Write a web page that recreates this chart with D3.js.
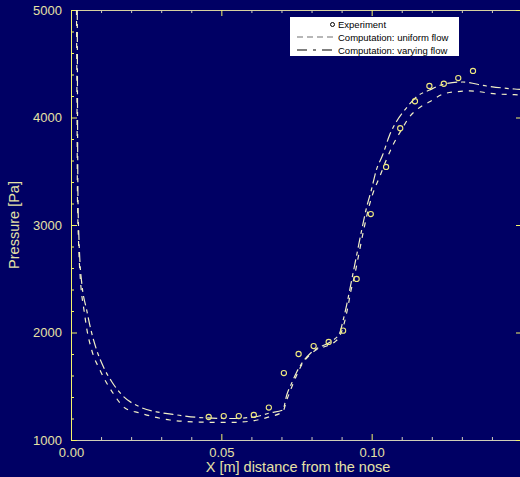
<!DOCTYPE html>
<html><head><meta charset="utf-8">
<script src="https://cdn.jsdelivr.net/npm/d3@7"></script>
<style>html,body{margin:0;padding:0;background:#000064;}svg{display:block;}</style>
</head><body>
<svg id="chart" width="520" height="477"></svg>
<script>
// Experiment data
const expX = [0.0458,0.0508,0.0558,0.0608,0.0658,0.0708,0.0757,0.0807,0.0857,0.0905,0.0950,0.0997,0.1048,0.1095,0.1144,0.1192,0.1240,0.1288,0.1337];
const expP = [1214,1223,1223,1233,1302,1623,1800,1874,1912,2017,2498,3102,3540,3900,4151,4293,4314,4367,4433];
// Computation: uniform flow (dashed)
const uniX = [0.00183,0.00199,0.00216,0.00249,0.00282,0.00332,0.00432,0.00532,0.00688,0.00963,0.01395,0.01794,0.02292,0.03289,0.04286,0.05282,0.0608,0.06611,0.07043,0.07176,0.07342,0.07508,0.07708,0.0794,0.08206,0.08505,0.08771,0.08937,0.0907,0.09203,0.09302,0.09435,0.09568,0.09734,0.0991,0.10043,0.10266,0.10488,0.10708,0.10987,0.11262,0.11528,0.11927,0.12359,0.12814,0.13256,0.14143,0.14751,0.1505];
const uniP = [5000,4163,3233,2860,2628,2423,2209,2023,1837,1651,1437,1298,1251,1186,1167,1163,1180,1217,1263,1372,1493,1605,1716,1791,1847,1874,1912,1967,2070,2228,2377,2535,2721,2953,3170,3295,3449,3605,3744,3884,4007,4079,4147,4216,4240,4247,4219,4212,4209];
// Computation: varying flow (dash-dot)
const varX = [0.00209,0.00216,0.00233,0.00266,0.00299,0.00365,0.00522,0.00664,0.00854,0.01096,0.01362,0.01694,0.02292,0.02957,0.03522,0.04286,0.05282,0.0608,0.06611,0.07043,0.07176,0.07342,0.07508,0.07708,0.0794,0.08206,0.08505,0.08771,0.08937,0.09037,0.09169,0.09269,0.09369,0.09502,0.09668,0.09834,0.0999,0.10156,0.10365,0.10598,0.10821,0.11153,0.11495,0.11927,0.12425,0.13023,0.13821,0.14751,0.1505];
const varP = [5000,4163,3233,2860,2650,2442,2209,2023,1837,1670,1540,1419,1307,1256,1233,1209,1200,1214,1251,1279,1419,1530,1633,1726,1800,1856,1893,1940,1995,2098,2256,2395,2535,2721,2953,3167,3326,3512,3651,3837,3961,4088,4193,4256,4312,4330,4293,4265,4260];
const xMajor = [0, 0.05, 0.10, 0.15];
const xMajorLabels = ["0.00", "0.05", "0.10", ""];
const yMajor = [1000, 2000, 3000, 4000, 5000];
const legendLabels = ["Experiment", "Computation: uniform flow", "Computation: varying flow"];

const svg = d3.select("#chart");
const L = 71, R = 522, T = 10, B = 440;
const x = d3.scaleLinear().domain([0, 0.15]).range([L, R]);
const y = d3.scaleLinear().domain([1000, 5000]).range([B, T]);
const txtCol = "#e6e2a6", yel = "#f4f46a", grey = "#cfcdb8", lineCol = "#f2f0c6";

svg.append("rect").attr("width", 520).attr("height", 477).attr("fill", "#000064");
svg.append("clipPath").attr("id", "clip").append("rect")
  .attr("x", L).attr("y", T).attr("width", R - L).attr("height", B - T);

const xMinor = d3.range(0, 0.1501, 0.01).filter(v => !xMajor.some(m => Math.abs(m - v) < 1e-9));
const yMinor = d3.range(1000, 5001, 200).filter(v => v % 1000 !== 0);

// bottom axis
const gb = svg.append("g").attr("transform", `translate(0,${B})`)
  .call(d3.axisBottom(x).tickValues(xMinor).tickSize(-3).tickFormat(""));
gb.select(".domain").attr("stroke", grey);
gb.selectAll(".tick line").attr("stroke", grey);
const gb2 = svg.append("g").attr("transform", `translate(0,${B})`)
  .call(d3.axisBottom(x).tickValues(xMajor).tickSize(-6).tickPadding(14).tickFormat((d, i) => xMajorLabels[i]));
gb2.select(".domain").remove();
gb2.selectAll(".tick line").attr("stroke", yel);
gb2.selectAll(".tick text").attr("fill", txtCol).attr("font-family", "Liberation Sans, Arial, sans-serif").attr("font-size", 13).attr("dy", "0.2em");

// top axis
const gt = svg.append("g").attr("transform", `translate(0,${T})`)
  .call(d3.axisTop(x).tickValues(xMinor).tickSize(-3).tickFormat(""));
gt.select(".domain").attr("stroke", "#d6d0a0");
gt.selectAll(".tick line").attr("stroke", grey);
const gt2 = svg.append("g").attr("transform", `translate(0,${T})`)
  .call(d3.axisTop(x).tickValues(xMajor).tickSize(-6).tickFormat(""));
gt2.select(".domain").remove();
gt2.selectAll(".tick line").attr("stroke", yel);

// left axis
const gl = svg.append("g").attr("transform", `translate(${L},0)`)
  .call(d3.axisLeft(y).tickValues(yMinor).tickSize(-3).tickFormat(""));
gl.select(".domain").attr("stroke", yel);
gl.selectAll(".tick line").attr("stroke", yel);
const gl2 = svg.append("g").attr("transform", `translate(${L},0)`)
  .call(d3.axisLeft(y).tickValues(yMajor).tickSize(-6).tickPadding(9).tickFormat(d3.format("d")));
gl2.select(".domain").remove();
gl2.selectAll(".tick line").attr("stroke", yel);
gl2.selectAll(".tick text").attr("fill", txtCol).attr("font-family", "Liberation Sans, Arial, sans-serif").attr("font-size", 13);

// right axis
const gr = svg.append("g").attr("transform", `translate(${R},0)`)
  .call(d3.axisRight(y).tickValues(yMajor).tickSize(-6).tickFormat(""));
gr.select(".domain").attr("stroke", grey);
gr.selectAll(".tick line").attr("stroke", yel);

// axis titles
svg.append("text").attr("x", 298).attr("y", 472).attr("text-anchor", "middle")
  .attr("fill", txtCol).attr("font-family", "Liberation Sans, Arial, sans-serif").attr("font-size", 14.5)
  .text("X [m] distance from the nose");
svg.append("text").attr("transform", "translate(19,225) rotate(-90)").attr("text-anchor", "middle")
  .attr("fill", txtCol).attr("font-family", "Liberation Sans, Arial, sans-serif").attr("font-size", 14.5)
  .text("Pressure [Pa]");

// curves
const plot = svg.append("g").attr("clip-path", "url(#clip)");
const line = d3.line().x(d => x(d[0])).y(d => y(d[1])).curve(d3.curveMonotoneX);
plot.append("path").datum(uniX.map((v, i) => [v, uniP[i]])).attr("d", line)
  .attr("fill", "none").attr("stroke", lineCol).attr("stroke-width", 1.2).attr("stroke-dasharray", "5,6");
plot.append("path").datum(varX.map((v, i) => [v, varP[i]])).attr("d", line)
  .attr("fill", "none").attr("stroke", lineCol).attr("stroke-width", 1.2).attr("stroke-dasharray", "10,4,4,4");
plot.selectAll("circle.exp").data(expX.map((v, i) => [v, expP[i]])).enter().append("circle")
  .attr("class", "exp").attr("cx", d => x(d[0])).attr("cy", d => y(d[1])).attr("r", 2.6)
  .attr("fill", "none").attr("stroke", "#f0ea80").attr("stroke-width", 1.1);

// legend
const lg = svg.append("g");
lg.append("rect").attr("x", 290).attr("y", 17).attr("width", 169).attr("height", 39).attr("fill", "#ffffff");
const rowsY = [24.5, 37, 50];
lg.append("circle").attr("cx", 332.5).attr("cy", rowsY[0]).attr("r", 2).attr("fill", "none").attr("stroke", "#000").attr("stroke-width", 1);
lg.append("line").attr("x1", 297).attr("x2", 333).attr("y1", rowsY[1]).attr("y2", rowsY[1])
  .attr("stroke", "#707070").attr("stroke-width", 1.2).attr("stroke-dasharray", "6,4");
lg.append("line").attr("x1", 297).attr("x2", 333).attr("y1", rowsY[2]).attr("y2", rowsY[2])
  .attr("stroke", "#000").attr("stroke-width", 1.2).attr("stroke-dasharray", "10,6,3,6");
lg.selectAll("text.lt").data(legendLabels).enter().append("text").attr("class", "lt")
  .attr("x", 338).attr("y", (d, i) => rowsY[i] + 3.5)
  .attr("font-family", "Liberation Sans, Arial, sans-serif").attr("font-size", 9.5).attr("fill", "#000")
  .text(d => d);
</script>
</body></html>
